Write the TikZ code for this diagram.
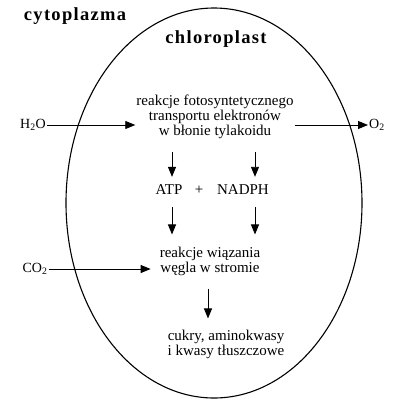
\documentclass[tikz,border=0pt]{standalone}
\usepackage{fontspec}
\setmainfont{Liberation Serif}
\newfontfamily\tytulfont{Liberation Serif}[LetterSpace=7]
\usetikzlibrary{arrows.meta}

\tikzset{
  tekst/.style={align=center,inner sep=1pt,font=\fontsize{15}{15}\selectfont},
  wzor/.style={inner sep=1pt,font=\fontsize{14}{15}\selectfont},
  tytul/.style={inner sep=0pt,font=\fontsize{18.5}{20}\tytulfont\bfseries},
  strz/.style={line width=0.9pt,-{Triangle[length=10pt,width=8pt]}},
}

\begin{document}
\begin{tikzpicture}[x=1pt,y=-1pt]
  \useasboundingbox (0,0) rectangle (403,405);
  % chloroplast
  \draw[line width=1.1pt] (214,203) ellipse [x radius=148, y radius=195];
  \node[tytul] (cyt) at (75,16) {cytoplazma};
  \node[tytul] (chl) at (216,39) {chloroplast};
  % reakcje
  \node[tekst] (fot) at (215,117) {reakcje fotosyntetycznego\\transportu elektronów\\w błonie tylakoidu};
  \node[tekst] (atp) at (169,190) {ATP};
  \node[tekst] (plus) at (199,190) {+};
  \node[tekst] (nadph) at (243,190) {NADPH};
  \node[tekst] (wiaz) at (210,261) {reakcje wiązania\\węgla w stromie};
  \node[tekst] (cuk) at (226,344) {cukry, aminokwasy\\i kwasy tłuszczowe};
  % substraty i produkty
  \node[wzor] (h2o) at (33,125) {H\textsubscript{2}O};
  \node[wzor,anchor=west] (o2) at (368,125) {O\textsubscript{2}};
  \node[wzor] (co2) at (35,269) {CO\textsubscript{2}};
  \coordinate (k1) at (172,0);
  \coordinate (k2) at (255,0);
  \coordinate (k3) at (208,0);
  % strzalki
  \draw[strz] (h2o.east) -- (h2o.east -| fot.west);
  \draw[strz] (fot.east |- o2.west) -- (o2.west);
  \draw[strz,shorten >=8pt] (co2.east) -- (co2.east -| wiaz.west);
  \draw[strz,shorten <=12pt,shorten >=7pt] (fot.south -| k1) -- (atp.north -| k1);
  \draw[strz,shorten <=12pt,shorten >=7pt] (fot.south -| k2) -- (nadph.north -| k2);
  \draw[strz,shorten <=11pt,shorten >=11pt] (atp.south -| k1) -- (wiaz.north -| k1);
  \draw[strz,shorten <=11pt,shorten >=11pt] (nadph.south -| k2) -- (wiaz.north -| k2);
  \draw[strz,shorten <=12pt,shorten >=10pt] (wiaz.south -| k3) -- (cuk.north -| k3);
\end{tikzpicture}
\end{document}
